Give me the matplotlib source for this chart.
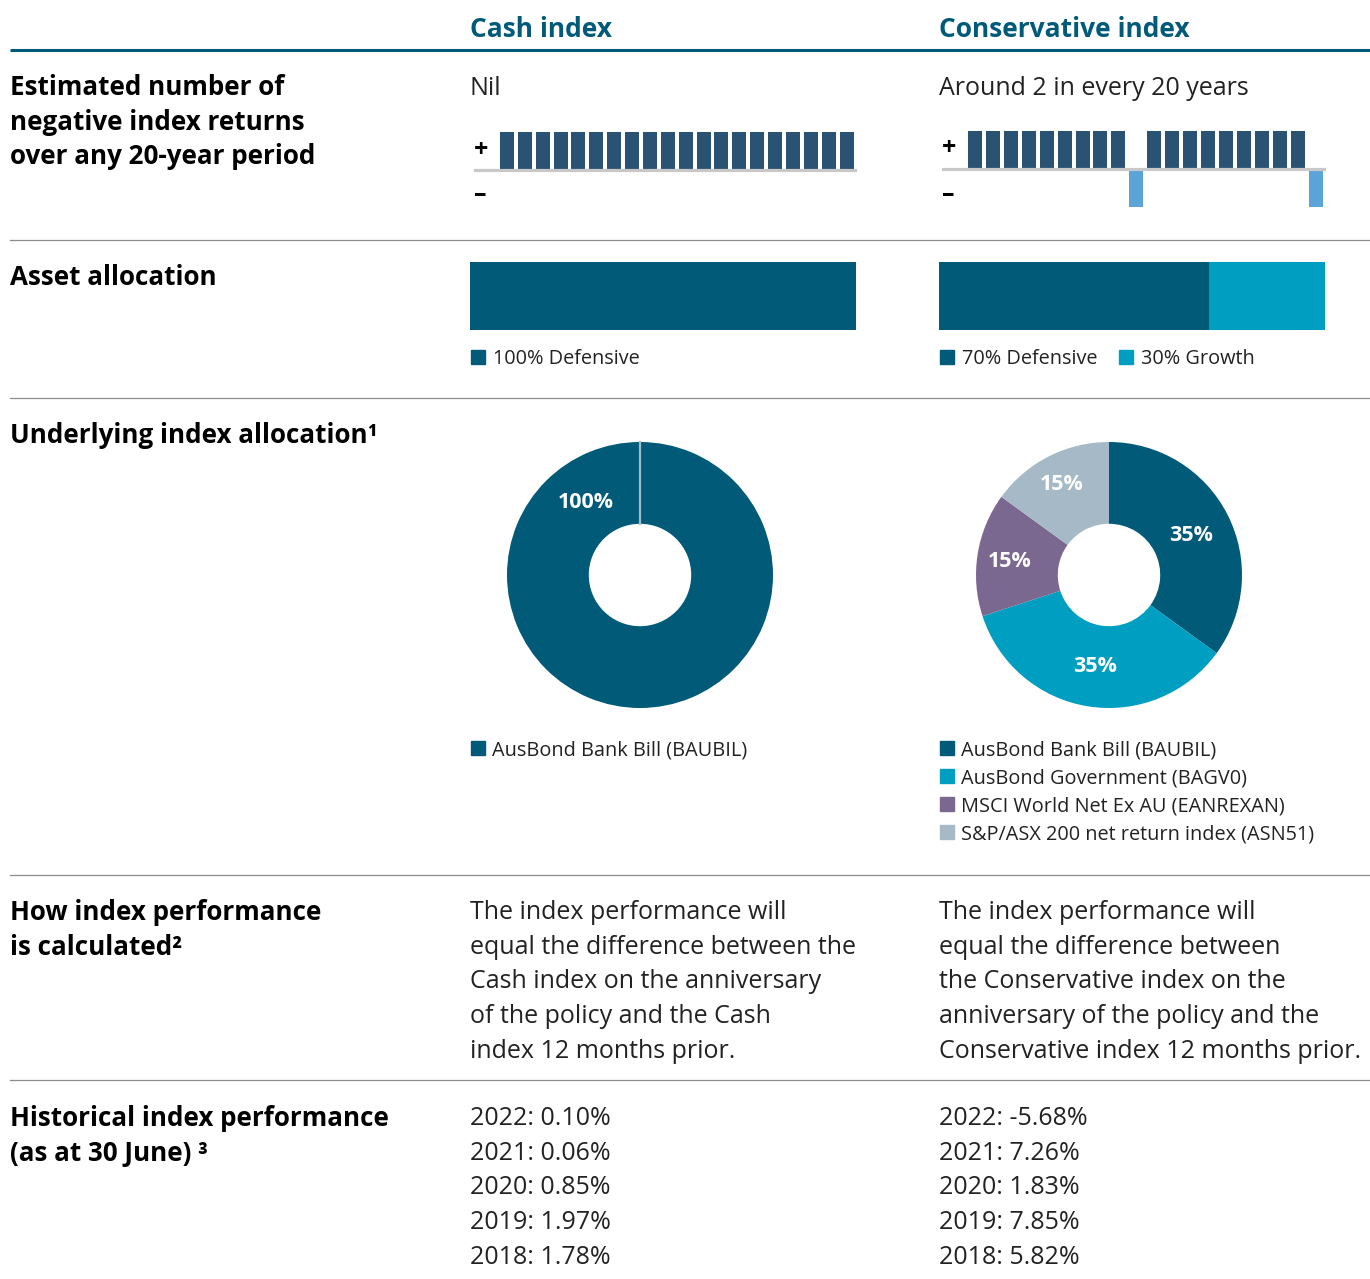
import matplotlib.pyplot as plt
from matplotlib.patches import Rectangle
import numpy as np

plt.rcParams['font.family'] = ['Open Sans', 'DejaVu Sans']

W, H = 1370, 1279

# data
columns = ["Cash index", "Conservative index"]
negative_freq = ["Nil", "Around 2 in every 20 years"]
cash_returns = [1, 1, 1, 1, 1, 1, 1, 1, 1, 1, 1, 1, 1, 1, 1, 1, 1, 1, 1, 1]
cons_returns = [1, 1, 1, 1, 1, 1, 1, 1, 1, -1, 1, 1, 1, 1, 1, 1, 1, 1, 1, -1]

cash_alloc_labels = ["Defensive"]
cash_alloc = [100]
cons_alloc_labels = ["Defensive", "Growth"]
cons_alloc = [70, 30]

cash_idx_labels = ["AusBond Bank Bill (BAUBIL)"]
cash_idx = [100]
cons_idx_labels = ["AusBond Bank Bill (BAUBIL)", "AusBond Government (BAGV0)",
                   "MSCI World Net Ex AU (EANREXAN)", "S&P/ASX 200 net return index (ASN51)"]
cons_idx = [35, 35, 15, 15]

cash_calc = ["The index performance will", "equal the difference between the",
             "Cash index on the anniversary", "of the policy and the Cash",
             "index 12 months prior."]
cons_calc = ["The index performance will", "equal the difference between",
             "the Conservative index on the", "anniversary of the policy and the",
             "Conservative index 12 months prior."]

years = [2022, 2021, 2020, 2019, 2018]
cash_hist = ["0.10", "0.06", "0.85", "1.97", "1.78"]
cons_hist = ["-5.68", "7.26", "1.83", "7.85", "5.82"]

row_labels = [
    (["Estimated number of", "negative index returns", "over any 20-year period"], 85),
    (["Asset allocation"], 275),
    (["Underlying index allocation\u00b9"], 433),
    (["How index performance", "is calculated\u00b2"], 910),
    (["Historical index performance", "(as at 30 June) \u00b3"], 1116),
]

DARK = '#005a78'
TEAL = '#009fc2'
PURPLE = '#7b6891'
GREY_BLUE = '#a5b9c6'
NAVY = '#2a5272'
LIGHT_BLUE = '#5ba4d8'

fig = plt.figure(figsize=(W / 100, H / 100), dpi=100)
ax = fig.add_axes([0, 0, 1, 1])
ax.set_xlim(0, W)
ax.set_ylim(H, 0)
ax.axis('off')


def px_axes(x0, y0, x1, y1):
    a = fig.add_axes([x0 / W, 1 - y1 / H, (x1 - x0) / W, (y1 - y0) / H])
    a.axis('off')
    return a


COLX = [470, 939]
LH = 34.7
BODY = 18
LEG = 14.3
DY = 2.5

# headers and rules
for x, name in zip(COLX, columns):
    ax.text(x, 27 + DY, name, fontsize=19, fontweight='bold', color=DARK, va='center')
ax.plot([10, 1370], [49.5, 49.5], color=DARK, lw=2.2, solid_capstyle='butt')
for y in [240, 398, 875, 1080]:
    ax.plot([10, 1370], [y, y], color='#8c8c8c', lw=0.9)

for lines, y0 in row_labels:
    for i, s in enumerate(lines):
        ax.text(10, y0 + DY + i * LH, s, fontsize=18.7, fontweight='bold', color='black', va='center')

for x, s in zip(COLX, negative_freq):
    ax.text(x, 86 + DY, s, fontsize=BODY, color='#222222', va='center')

# return strips
for returns, (x0, x1, yb) in zip([cash_returns, cons_returns],
                                 [(474, 857, 170), (942, 1326, 169)]):
    sa = px_axes(x0, yb - 45, x1, yb + 45)
    idx = np.arange(len(returns))
    cols = [NAVY if r > 0 else LIGHT_BLUE for r in returns]
    sa.bar(idx, returns, width=0.78, color=cols, zorder=2)
    sa.axhline(0, color='#c8c8c8', lw=2.3, zorder=3)
    sa.set_xlim(-1.84, len(returns) - 1 + 0.58)
    sa.set_ylim(-1.18, 1.18)
    ax.text(x0 + 7, yb - 20, '+', fontsize=18, fontweight='bold', ha='center', va='center')
    ax.text(x0 + 6, yb + 25, '\u2013', fontsize=18, fontweight='bold', ha='center', va='center')

# asset allocation bars
for vals, labels, x0 in [(cash_alloc, cash_alloc_labels, 470), (cons_alloc, cons_alloc_labels, 939)]:
    ba = px_axes(x0, 262, x0 + 386, 330)
    left = 0
    colors = [DARK, TEAL]
    for v, c in zip(vals, colors):
        ba.barh(0, v, left=left, height=1, color=c)
        left += v
    ba.set_xlim(0, 100)
    ba.set_ylim(-0.5, 0.5)
    lx = x0 + 1
    for v, lab, c in zip(vals, labels, colors):
        ax.add_patch(Rectangle((lx, 350), 14, 14, color=c))
        ax.text(lx + 22, 357 + DY, f"{v}% {lab}", fontsize=LEG, color='#222222', va='center')
        lx += 179

# donuts
for vals, labels, cx, colors in [
        (cash_idx, cash_idx_labels, 640, [DARK]),
        (cons_idx, cons_idx_labels, 1109, [DARK, TEAL, PURPLE, GREY_BLUE])]:
    da = px_axes(cx - 150, 575 - 150, cx + 150, 575 + 150)
    r = 150 / 133
    wedges, _ = da.pie(vals, colors=colors, startangle=90, counterclock=False,
                       radius=1, wedgeprops=dict(width=0.615, edgecolor='none'))
    da.set_xlim(-r, r)
    da.set_ylim(-r, r)
    da.set_aspect('equal')
    if len(vals) == 1:
        da.plot([0, 0], [0.385, 1], color=GREY_BLUE, lw=1.6)
        angs = [126]
        dists = [0.69]
    else:
        angs = [(w.theta1 + w.theta2) / 2 for w in wedges]
        dists = [0.69, 0.68, 0.76, 0.78]
    for v, a, d in zip(vals, angs, dists):
        t = np.deg2rad(a)
        da.text(d * np.cos(t), d * np.sin(t) - 0.015, f"{v}%", color='white', fontsize=15.5,
                fontweight='bold', ha='center', va='center')
    lx = cx - 169
    for i, (lab, c) in enumerate(zip(labels, colors)):
        y = 748 + i * 28
        ax.add_patch(Rectangle((lx, y - 7), 14, 14, color=c))
        ax.text(lx + 21, y + DY, lab, fontsize=LEG, color='#222222', va='center')

# calculation text
for x, lines in zip(COLX, [cash_calc, cons_calc]):
    for i, s in enumerate(lines):
        ax.text(x, 910 + DY + i * LH, s, fontsize=BODY, color='#222222', va='center')

# history
for x, vals in zip(COLX, [cash_hist, cons_hist]):
    for i, (yr, v) in enumerate(zip(years, vals)):
        ax.text(x, 1116 + DY + i * LH, f"{yr}: {v}%", fontsize=BODY, color='#222222', va='center')

plt.savefig("out.png", dpi=100)
